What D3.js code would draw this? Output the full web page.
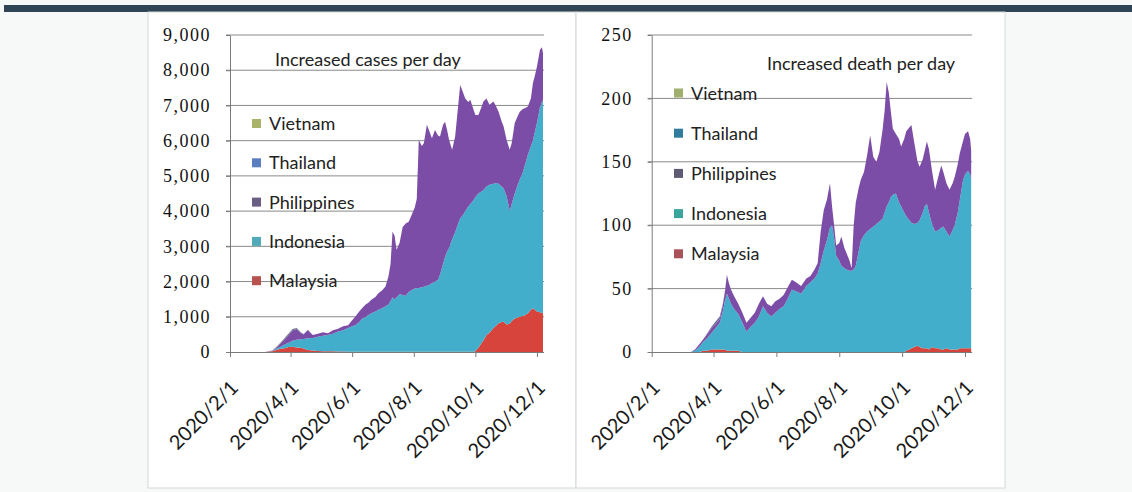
<!DOCTYPE html>
<html>
<head>
<meta charset="utf-8">
<script src="https://cdn.jsdelivr.net/npm/d3@7"></script>
<style>
  body { margin: 0; background: #f7f9f9; }
  svg { display: block; }
</style>
</head>
<body>
<svg id="chart" width="1132" height="492"></svg>
<script>
// stacking order bottom -> top; legend lists them top -> bottom
const countries = ["Malaysia", "Indonesia", "Philippines", "Thailand", "Vietnam"];
const xTickDates = ["2020-02-01", "2020-04-01", "2020-06-01", "2020-08-01", "2020-10-01", "2020-12-01"];
const casesTicks = [0, 1000, 2000, 3000, 4000, 5000, 6000, 7000, 8000, 9000];
const deathTicks = [0, 50, 100, 150, 200, 250];

// ---- increased cases per day ----
const casesDates = [
  "2020-02-01", "2020-03-07", "2020-03-14", "2020-03-18", "2020-03-22", "2020-03-26", "2020-03-30",
  "2020-04-03", "2020-04-07", "2020-04-11", "2020-04-14", "2020-04-18", "2020-04-23", "2020-04-28",
  "2020-05-03", "2020-05-08", "2020-05-13", "2020-05-18", "2020-05-23", "2020-05-28",
  "2020-06-01", "2020-06-04", "2020-06-08", "2020-06-11", "2020-06-14", "2020-06-17", "2020-06-20", "2020-06-24", "2020-06-27",
  "2020-07-01", "2020-07-04", "2020-07-07", "2020-07-09", "2020-07-11", "2020-07-13", "2020-07-15", "2020-07-18", "2020-07-21", "2020-07-24", "2020-07-27", "2020-07-30",
  "2020-08-02", "2020-08-04", "2020-08-06", "2020-08-09", "2020-08-11", "2020-08-14", "2020-08-16", "2020-08-19", "2020-08-22", "2020-08-25", "2020-08-27", "2020-08-30",
  "2020-09-01", "2020-09-03", "2020-09-05", "2020-09-08", "2020-09-11", "2020-09-14", "2020-09-16", "2020-09-19", "2020-09-21", "2020-09-24", "2020-09-26", "2020-09-29",
  "2020-10-01", "2020-10-04", "2020-10-07", "2020-10-09", "2020-10-12", "2020-10-15", "2020-10-19", "2020-10-22", "2020-10-24", "2020-10-27", "2020-10-29",
  "2020-11-01", "2020-11-04", "2020-11-06", "2020-11-09", "2020-11-12", "2020-11-14", "2020-11-17", "2020-11-19", "2020-11-22", "2020-11-25", "2020-11-27", "2020-11-29",
  "2020-12-01", "2020-12-04", "2020-12-06", "2020-12-07"
];
const casesMalaysia = [
  0, 0, 20, 60, 90, 110, 140,
  150, 130, 120, 100, 60, 40, 30,
  20, 20, 20, 15, 15, 10,
  10, 10, 10, 10, 10, 10, 10, 10, 10,
  10, 10, 10, 10, 10, 10, 10, 10, 10, 10, 10, 10,
  10, 10, 10, 10, 10, 10, 10, 10, 10, 10, 10, 10,
  10, 10, 10, 10, 10, 10, 10, 10, 10, 10, 10, 10,
  20, 120, 250, 330, 480, 550, 680, 760, 815, 850, 860,
  780, 800, 880, 950, 980, 1000, 1020, 1040, 1100, 1200, 1240, 1200,
  1150, 1130, 1110, 1100
];
const casesIndonesia = [
  0, 0, 10, 30, 60, 100, 120,
  170, 220, 240, 270, 330, 360, 400,
  440, 460, 500, 565, 605, 670,
  720, 750, 840, 940, 980, 1040, 1090, 1140, 1190,
  1240, 1290, 1340, 1440, 1540, 1490, 1540, 1640, 1610, 1590, 1690, 1750,
  1790, 1800, 1810, 1830, 1845, 1870, 1890, 1940, 1990, 2035, 2190, 2490,
  2690, 2840, 2940, 3190, 3390, 3640, 3790, 3890, 3990, 4120, 4190, 4290,
  4380, 4380, 4310, 4270, 4220, 4200, 4100, 4040, 3965, 3850, 3790,
  3640, 3200, 3320, 3550, 3770, 3900, 4080, 4260, 4500, 4650, 4760, 5050,
  5350, 5820, 5990, 6050
];
const casesPhilippines = [
  0, 0, 10, 40, 90, 150, 220,
  290, 300, 180, 130, 230, 80, 90,
  100, 50, 100, 80, 110, 80,
  170, 240, 300, 300, 350, 350, 380, 410, 470,
  510, 560, 800, 1050, 1870, 1800, 1350, 1450, 1930, 2050, 2000, 2140,
  2300, 2540, 4200, 4010, 4075, 4570, 4400, 4120, 4300, 4105, 3920, 3950,
  3840, 3450, 3070, 2540, 2720, 3350, 3780, 3450, 3200, 2970, 2960, 2600,
  2330, 2230, 2390, 2510, 2500, 2270, 2330, 2150, 2040, 1850, 1750,
  1600, 1740, 1730, 2000, 1950, 1920, 1800, 1620, 1370, 1350, 1630, 1600,
  1600, 1630, 1550, 1340
];
const casesThailand = [
  0, 0, 0, 10, 20, 30, 40,
  40, 30, 20, 10, 10, 0, 0,
  0, 0, 0, 0, 0, 0,
  0, 0, 0, 0, 0, 0, 0, 0, 0,
  0, 0, 0, 0, 0, 0, 0, 0, 0, 0, 0, 0,
  0, 0, 0, 0, 0, 0, 0, 0, 0, 0, 0, 0,
  0, 0, 0, 0, 0, 0, 0, 0, 0, 0, 0, 0,
  0, 0, 0, 0, 0, 0, 0, 0, 0, 0, 0,
  0, 0, 0, 0, 0, 0, 0, 0, 0, 0, 0, 0,
  0, 0, 0, 0
];
const casesVietnam = [
  0, 0, 5, 10, 10, 10, 10,
  5, 5, 0, 0, 0, 0, 0,
  0, 0, 0, 0, 0, 0,
  0, 0, 0, 0, 0, 0, 0, 0, 0,
  0, 0, 0, 0, 0, 0, 0, 0, 0, 0, 0, 0,
  0, 0, 0, 0, 0, 0, 0, 0, 0, 0, 0, 0,
  0, 0, 0, 0, 0, 0, 0, 0, 0, 0, 0, 0,
  0, 0, 0, 0, 0, 0, 0, 0, 0, 0, 0,
  0, 0, 0, 0, 0, 0, 0, 0, 0, 0, 0, 0,
  0, 0, 0, 0
];

// ---- increased death per day ----
const deathDates = [
  "2020-02-01", "2020-03-10", "2020-03-14", "2020-03-18", "2020-03-22", "2020-03-26", "2020-03-30",
  "2020-04-03", "2020-04-07", "2020-04-10", "2020-04-12", "2020-04-14", "2020-04-16", "2020-04-18", "2020-04-21", "2020-04-25", "2020-04-29",
  "2020-05-03", "2020-05-07", "2020-05-11", "2020-05-15", "2020-05-19", "2020-05-23", "2020-05-27", "2020-05-31",
  "2020-06-04", "2020-06-08", "2020-06-12", "2020-06-16", "2020-06-20", "2020-06-25", "2020-06-30",
  "2020-07-04", "2020-07-08", "2020-07-11", "2020-07-14", "2020-07-17", "2020-07-20", "2020-07-23", "2020-07-25", "2020-07-27", "2020-07-29",
  "2020-08-01", "2020-08-03", "2020-08-06", "2020-08-08", "2020-08-11", "2020-08-13", "2020-08-15", "2020-08-17", "2020-08-20", "2020-08-22", "2020-08-25", "2020-08-28", "2020-08-31",
  "2020-09-03", "2020-09-06", "2020-09-09", "2020-09-12", "2020-09-14", "2020-09-16", "2020-09-18", "2020-09-20", "2020-09-22", "2020-09-25", "2020-09-28", "2020-09-30",
  "2020-10-03", "2020-10-05", "2020-10-08", "2020-10-10", "2020-10-13", "2020-10-16", "2020-10-18", "2020-10-21", "2020-10-23", "2020-10-25", "2020-10-27", "2020-10-30",
  "2020-11-02", "2020-11-05", "2020-11-08", "2020-11-10", "2020-11-13", "2020-11-16", "2020-11-19", "2020-11-21", "2020-11-24", "2020-11-26", "2020-11-29",
  "2020-12-01", "2020-12-04", "2020-12-06", "2020-12-07"
];
const deathMalaysia = [
  0, 0, 0, 0, 1, 1, 2,
  2, 2, 2, 2, 1, 1, 1, 1, 1, 0,
  0, 0, 0, 0, 0, 0, 0, 0,
  0, 0, 0, 0, 0, 0, 0,
  0, 0, 0, 0, 0, 0, 0, 0, 0, 0,
  0, 0, 0, 0, 0, 0, 0, 0, 0, 0, 0, 0, 0,
  0, 0, 0, 0, 0, 0, 0, 0, 0, 0, 0, 0,
  0, 1, 2, 3, 4, 5, 4, 3, 3, 3, 2, 4,
  3, 3, 2, 2, 3, 2, 2, 2, 2, 3, 3,
  3, 3, 3, 3
];
const deathIndonesia = [
  0, 0, 1, 4, 7, 10, 13,
  17, 21, 30, 38, 45, 41, 37, 33, 29, 23,
  16, 20, 23, 28, 36, 31, 28, 31,
  34, 36, 42, 49, 48, 46, 52,
  55, 58, 62, 70, 80, 88, 98, 100, 90, 76,
  72, 68, 66, 65, 64, 64, 65, 68, 80, 88, 92, 95, 97,
  99, 101, 103, 105, 110, 115, 118, 122, 124, 125, 118, 115,
  110, 106, 102, 99, 97, 97, 100, 107, 112, 114, 108, 97,
  92, 93, 96, 97, 92, 89, 94, 98, 108, 117, 132,
  137, 140, 137, 133
];
const deathPhilippines = [
  0, 0, 1, 2, 2, 3, 4,
  3, 3, 5, 7, 15, 12, 11, 10, 8, 8,
  7, 7, 8, 10, 8, 7, 8, 9,
  8, 9, 9, 8, 7, 6, 6,
  5, 7, 8, 25, 32, 32, 35, 15, 10, 8,
  14, 23, 16, 13, 8, 2, 35, 50, 50, 48, 50, 60, 74,
  55, 49, 55, 70, 80, 98, 87, 68, 52, 47, 50, 47,
  58, 67, 73, 77, 63, 48, 42, 42, 44, 49, 50, 42,
  33, 42, 49, 43, 38, 37, 37, 38, 38, 37, 31,
  32, 31, 28, 23
];
const deathThailand = [
  0, 0, 0, 0, 0, 1, 1,
  2, 2, 1, 1, 0, 0, 0, 0, 0, 0,
  0, 0, 0, 0, 0, 0, 0, 0,
  0, 0, 0, 0, 0, 0, 0,
  0, 0, 0, 0, 0, 0, 0, 0, 0, 0,
  0, 0, 0, 0, 0, 0, 0, 0, 0, 0, 0, 0, 0,
  0, 0, 0, 0, 0, 0, 0, 0, 0, 0, 0, 0,
  0, 0, 0, 0, 0, 0, 0, 0, 0, 0, 0, 0,
  0, 0, 0, 0, 0, 0, 0, 0, 0, 0, 0,
  0, 0, 0, 0
];
const deathVietnam = deathThailand.map(() => 0);

const areaColours = {
  Malaysia: "#d6443b",
  Indonesia: "#42aecb",
  Philippines: "#7c4da6",
  Thailand: "#6a6f9e",
  Vietnam: "#9bbb59",
};

const parse = d3.timeParse("%Y-%m-%d");
const fmtTick = d3.timeFormat("%Y/%-m/%-d");
const svg = d3.select("#chart");

// page chrome: dark bar at top and the two white panels
svg.append("rect").attr("x", 4).attr("y", 5).attr("width", 1128).attr("height", 7).attr("fill", "#2f4454");
svg.append("rect").attr("x", 148).attr("y", 12).attr("width", 428).attr("height", 476)
  .attr("fill", "#fff").attr("stroke", "#d3d8d8");
svg.append("rect").attr("x", 576).attr("y", 12).attr("width", 429).attr("height", 476)
  .attr("fill", "#fff").attr("stroke", "#d3d8d8");

function drawPanel(cfg) {
  const top = 35, bottom = 352;
  const g = svg.append("g");

  const x = d3.scaleTime()
    .domain([parse("2020-02-01"), parse("2020-12-08")])
    .range([cfg.left, cfg.right]);
  const y = d3.scaleLinear().domain([0, cfg.max]).range([bottom, top]);

  const rows = cfg.dates.map((d, i) => {
    const r = { date: parse(d) };
    countries.forEach((c) => (r[c] = cfg.series[c][i]));
    return r;
  });
  const stacked = d3.stack().keys(countries)(rows);

  // gridlines
  g.append("g")
    .selectAll("line")
    .data(cfg.ticks.filter((t) => t > 0))
    .join("line")
    .attr("x1", cfg.left - 4)
    .attr("x2", cfg.right)
    .attr("y1", (d) => y(d))
    .attr("y2", (d) => y(d))
    .attr("stroke", "#8a8a8a")
    .attr("stroke-width", 1);

  const area = d3.area()
    .x((d) => x(d.data.date))
    .y0((d) => y(d[0]))
    .y1((d) => y(d[1]));

  g.append("g")
    .selectAll("path")
    .data(stacked)
    .join("path")
    .attr("fill", (d) => areaColours[d.key])
    .attr("d", area);

  // y axis
  const yAxis = g.append("g")
    .attr("transform", `translate(${cfg.left},0)`)
    .call(d3.axisLeft(y).tickValues(cfg.ticks).tickFormat(cfg.yFormat)
      .tickSizeInner(4).tickSizeOuter(0).tickPadding(15));
  yAxis.selectAll("path, line").attr("stroke", "#7a7a7a");
  yAxis.selectAll("text")
    .style("font-family", "'Liberation Serif', 'DejaVu Serif', serif")
    .style("font-size", "18px")
    .style("letter-spacing", "1.5px")
    .attr("fill", "#111");

  // x axis
  const xAxis = g.append("g")
    .attr("transform", `translate(0,${bottom})`)
    .call(d3.axisBottom(x).tickValues(xTickDates.map(parse)).tickFormat(fmtTick)
      .tickSizeInner(5).tickSizeOuter(0));
  xAxis.select(".domain").attr("stroke", "#7a7a7a").attr("d", `M${cfg.left - 4},0.5H${cfg.right}`);
  xAxis.selectAll("line").attr("stroke", "#7a7a7a");
  xAxis.selectAll("text")
    .attr("x", 0)
    .attr("y", 0)
    .attr("dy", 0)
    .attr("text-anchor", "end")
    .attr("transform", "translate(9,37) rotate(-45)")
    .style("font-family", "Lato, 'Open Sans', sans-serif")
    .style("font-size", "20px")
    .attr("fill", "#1a1a1a");

  // title
  g.append("text")
    .attr("x", cfg.titleX)
    .attr("y", cfg.titleY)
    .style("font-family", "Lato, 'Open Sans', sans-serif")
    .style("font-size", "18px")
    .attr("fill", "#222")
    .text(cfg.title);

  // legend
  const legend = g.append("g")
    .selectAll("g")
    .data(countries.slice().reverse())
    .join("g")
    .attr("transform", (d, i) => `translate(${cfg.legendX},${cfg.legendY + i * cfg.legendStep})`);
  legend.append("rect")
    .attr("x", 0)
    .attr("y", -11)
    .attr("width", 9)
    .attr("height", 9)
    .attr("fill", (d) => cfg.swatches[d]);
  legend.append("text")
    .attr("x", 17)
    .attr("y", 0)
    .style("font-family", "Lato, 'Open Sans', sans-serif")
    .style("font-size", "18px")
    .attr("fill", "#222")
    .text((d) => d);
}

drawPanel({
  left: 230,
  right: 544,
  max: 9000,
  ticks: casesTicks,
  yFormat: d3.format(","),
  dates: casesDates,
  series: {
    Malaysia: casesMalaysia,
    Indonesia: casesIndonesia,
    Philippines: casesPhilippines,
    Thailand: casesThailand,
    Vietnam: casesVietnam,
  },
  title: "Increased cases per day",
  titleX: 275,
  titleY: 66,
  legendX: 252,
  legendY: 130,
  legendStep: 39.3,
  swatches: {
    Vietnam: "#a9b46a",
    Thailand: "#5a7ec0",
    Philippines: "#6b5e85",
    Indonesia: "#50aab8",
    Malaysia: "#b8524e",
  },
});

drawPanel({
  left: 651.7,
  right: 972.2,
  max: 250,
  ticks: deathTicks,
  yFormat: d3.format("d"),
  dates: deathDates,
  series: {
    Malaysia: deathMalaysia,
    Indonesia: deathIndonesia,
    Philippines: deathPhilippines,
    Thailand: deathThailand,
    Vietnam: deathVietnam,
  },
  title: "Increased death per day",
  titleX: 767,
  titleY: 70,
  legendX: 674,
  legendY: 99.5,
  legendStep: 40.2,
  swatches: {
    Vietnam: "#9fb06e",
    Thailand: "#2f7c9e",
    Philippines: "#5e5a74",
    Indonesia: "#3aa69b",
    Malaysia: "#a9525a",
  },
});
</script>
</body>
</html>
